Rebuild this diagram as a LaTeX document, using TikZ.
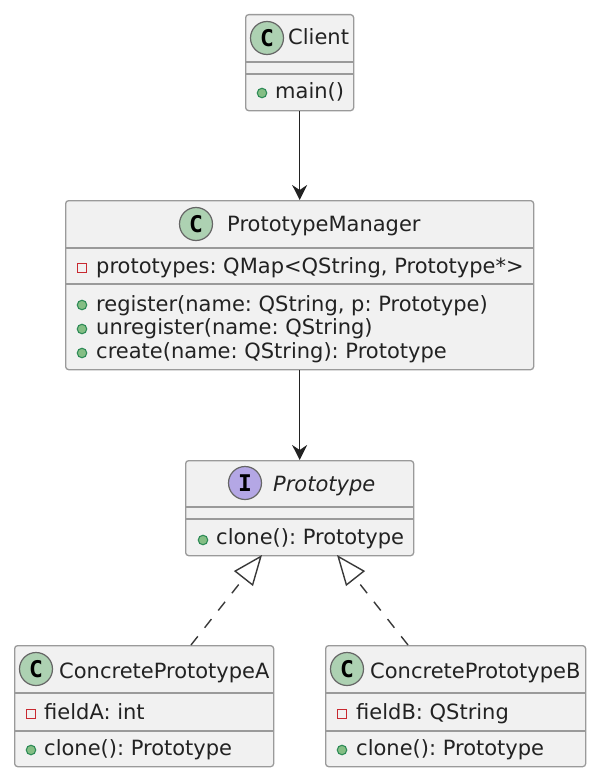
\documentclass[tikz,border=0pt]{standalone}
\usepackage{fontspec}
\setmainfont{DejaVu Sans}
\setmonofont{DejaVu Sans Mono}
\usetikzlibrary{arrows.meta,positioning,calc}
\definecolor{umlfill}{HTML}{F1F1F1}
\definecolor{umlline}{HTML}{9A9A9A}
\definecolor{umltext}{HTML}{222222}
\definecolor{badgeC}{HTML}{ADD1B2}
\definecolor{badgeI}{HTML}{B4A7E5}
\definecolor{pubgreen}{HTML}{84BE84}
\definecolor{pubedge}{HTML}{2E8B57}
\definecolor{privred}{HTML}{C82930}

\begin{document}
\frenchspacing
\begin{tikzpicture}[
  x=1pt, y=-1pt,
  classbox/.style={draw=umlline, line width=1.3pt, fill=umlfill, rounded corners=3pt,
                   inner sep=0pt, anchor=north west},
  sepline/.style={draw=umlline, line width=1.1pt},
  badge/.style={circle, draw=black!60, line width=1.2pt, minimum size=33pt, inner sep=0pt,
                font=\fontsize{23}{23}\ttfamily\bfseries, text=black},
  title/.style={anchor=base west, inner sep=0pt, text=umltext, font=\fontsize{21}{21}\selectfont},
  member/.style={title},
  pub/.style={circle, draw=pubedge, fill=pubgreen, line width=1.1pt, minimum size=9.5pt, inner sep=0pt},
  priv/.style={rectangle, draw=privred, line width=1.1pt, minimum size=9pt, inner sep=0pt},
  uses/.style={-{Stealth[length=15pt,width=15pt,inset=5pt]}, line width=1.6pt, draw=umltext},
  realizes/.style={-{Triangle[open,length=30pt,width=24pt,fill=white]}, line width=1.4pt,
                   draw=umltext!90, dash pattern=on 11pt off 11pt},
]
\useasboundingbox (0,0) rectangle (595,776);

%% Client
\node[classbox, minimum width=108pt, minimum height=96pt] (client) at (245,14) {};
\draw[sepline] (245,62) -- (353,62) (245,74) -- (353,74);
\node[badge, fill=badgeC] (clientC) at (267,38) {C};
\node[title] (clientT) at (288,45) {Client};
\node[pub] (clientP) at (262,93) {};
\node[member] (clientM) at (275,99) {main()};

%% PrototypeManager
\node[classbox, minimum width=468pt, minimum height=169pt] (manager) at (65,200) {};
\draw[sepline] (65,248) -- (533,248) (65,284) -- (533,284);
\node[badge, fill=badgeC] (managerC) at (196,224) {C};
\node[title] (managerT) at (227,231) {PrototypeManager};
\node[priv] (managerF) at (82,268) {};
\node[member] (managerA) at (96,273) {prototypes: QMap<QString, Prototype*>};
\node[pub] (managerP1) at (82,305) {};
\node[member] (managerM1) at (96,311) {register(name: QString, p: Prototype)};
\node[pub] (managerP2) at (82,329) {};
\node[member] (managerM2) at (96,334) {unregister(name: QString)};
\node[pub] (managerP3) at (82,353) {};
\node[member] (managerM3) at (96,358) {create(name: QString): Prototype};

%% Prototype
\node[classbox, minimum width=228pt, minimum height=95pt] (proto) at (185,460) {};
\draw[sepline] (185,507) -- (413,507) (185,519) -- (413,519);
\node[badge, fill=badgeI] (protoI) at (245,483) {I};
\node[title, font=\fontsize{21}{21}\selectfont\itshape] (protoT) at (273,491) {Prototype};
\node[pub] (protoP) at (203,540) {};
\node[member] (protoM) at (216,544) {clone(): Prototype};

%% ConcretePrototypeA
\node[classbox, minimum width=259pt, minimum height=121pt] (concA) at (14,645) {};
\draw[sepline] (14,693) -- (273,693) (14,731) -- (273,731);
\node[badge, fill=badgeC] (concAC) at (36,669) {C};
\node[title] (concAT) at (59,678) {ConcretePrototypeA};
\node[priv] (concAF) at (31,714) {};
\node[member] (concAA) at (44,719) {fieldA: int};
\node[pub] (concAP) at (31,750) {};
\node[member] (concAM) at (44,755) {clone(): Prototype};

%% ConcretePrototypeB
\node[classbox, minimum width=260pt, minimum height=121pt] (concB) at (325,645) {};
\draw[sepline] (325,693) -- (585,693) (325,731) -- (585,731);
\node[badge, fill=badgeC] (concBC) at (347,669) {C};
\node[title] (concBT) at (370,678) {ConcretePrototypeB};
\node[priv] (concBF) at (342,714) {};
\node[member] (concBA) at (356,719) {fieldB: QString};
\node[pub] (concBP) at (342,750) {};
\node[member] (concBM) at (356,755) {clone(): Prototype};

%% Arrows
\coordinate (protoL) at (262,555);
\coordinate (protoR) at (337,555);
\coordinate (concAtop) at (191,645);
\coordinate (concBtop) at (408,645);
\draw[uses] (client.south) -- (manager.north);
\draw[uses] (manager.south) -- (proto.north);
\draw[realizes] (concAtop) -- (protoL);
\draw[realizes] (concBtop) -- (protoR);

\end{tikzpicture}
\end{document}
